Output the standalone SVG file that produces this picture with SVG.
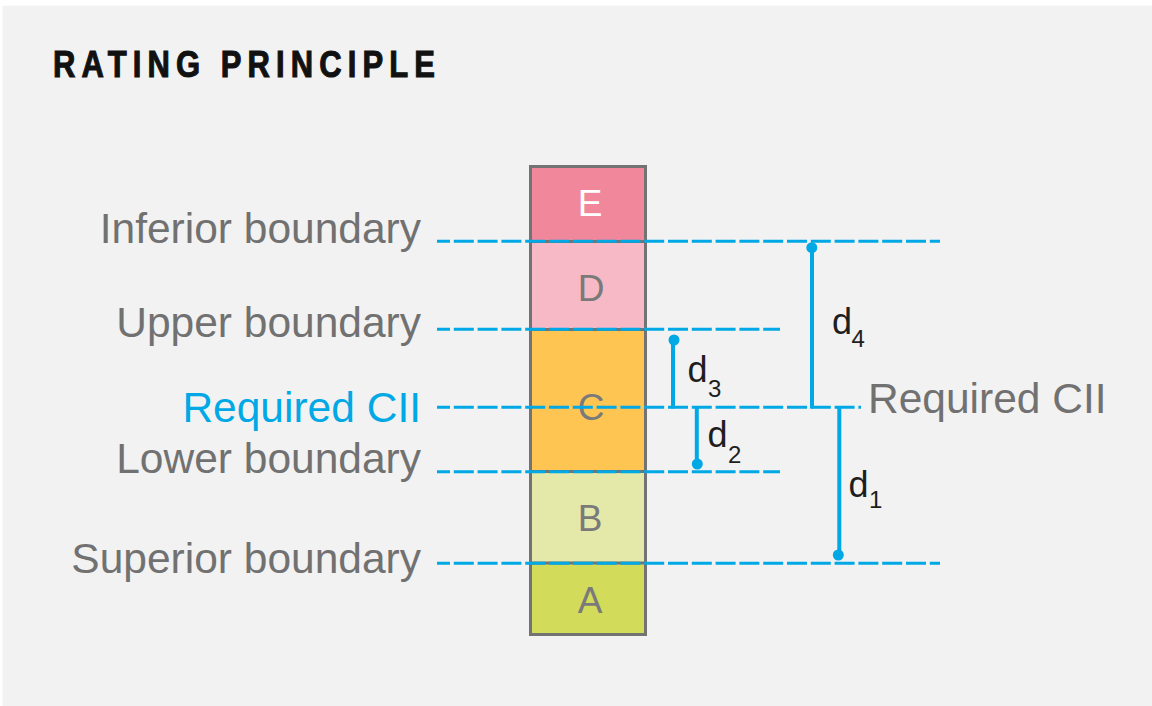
<svg xmlns="http://www.w3.org/2000/svg" width="1152" height="706" viewBox="0 0 1152 706">
  <style>
    .lbl { font-family: "Liberation Sans", Arial, sans-serif; font-size: 42.5px; fill: #717171; }
    .lbl-l { text-anchor: end; }
    .cii { fill: #00a9e6; }
    .band-txt { font-family: "Liberation Sans", Arial, sans-serif; font-size: 37px; fill: #7a7a7a; text-anchor: middle; }
    .dash { stroke: #00a9e6; stroke-width: 3; stroke-dasharray: 20 3.8; stroke-dashoffset: 7; fill: none; }
    .dim { stroke: #00a9e6; stroke-width: 4; fill: none; }
    .dot { fill: #00a9e6; }
    .sep { stroke: #737373; stroke-width: 3; }
    .dlbl { font-family: "Liberation Sans", Arial, sans-serif; font-size: 36px; fill: #1e1e1e; }
    .dsub { font-family: "Liberation Sans", Arial, sans-serif; font-size: 24px; fill: #1e1e1e; }
  </style>

  <!-- page background -->
  <rect x="0" y="0" width="1152" height="706" fill="#ffffff"/>
  <rect x="2.5" y="5.7" width="1150" height="701" fill="#f2f2f2"/>

  <!-- title -->
  <g id="title" transform="translate(53,76.7) scale(1,1.2)">
    <text x="0" y="0" font-family="'Liberation Sans', Arial, sans-serif" font-size="31" font-weight="bold" letter-spacing="6.1" fill="#111111" stroke="#111111" stroke-width="0.9">RATING PRINCIPLE</text>
  </g>

  <!-- rating scale bar -->
  <g id="scale-bar">
    <rect x="530.5" y="166.5" width="115" height="168" fill="#f0879b"/>
    <rect x="530.5" y="241.5" width="115" height="88" fill="#f6b9c5"/>
    <rect x="530.5" y="329.5" width="115" height="142" fill="#fec552"/>
    <rect x="530.5" y="471.5" width="115" height="92" fill="#e4e9a9"/>
    <rect x="530.5" y="563" width="115" height="71" fill="#d3db5a"/>
    <line class="sep" x1="530" y1="241.5" x2="646" y2="241.5"/>
    <line class="sep" x1="530" y1="329.5" x2="646" y2="329.5"/>
    <line class="sep" x1="530" y1="471.5" x2="646" y2="471.5"/>
    <line class="sep" x1="530" y1="563" x2="646" y2="563"/>
    <rect x="530.5" y="166.5" width="115" height="468" fill="none" stroke="#737373" stroke-width="3"/>
  </g>

  <g id="band-E"><text class="band-txt" x="590" y="216" style="fill:#ffffff">E</text></g>
  <g id="band-D"><text class="band-txt" x="591" y="300.7">D</text></g>
  <g id="band-C"><text class="band-txt" x="591" y="419.5">C</text></g>
  <g id="band-B"><text class="band-txt" x="590" y="530.7">B</text></g>
  <g id="band-A"><text class="band-txt" x="590" y="612.7">A</text></g>

  <!-- boundary labels -->
  <g id="label-inferior"><text class="lbl lbl-l" x="421" y="243">Inferior boundary</text></g>
  <g id="label-upper"><text class="lbl lbl-l" x="421" y="337">Upper boundary</text></g>
  <g id="label-required"><text class="lbl lbl-l cii" x="421" y="421.5">Required CII</text></g>
  <g id="label-lower"><text class="lbl lbl-l" x="421" y="473.3">Lower boundary</text></g>
  <g id="label-superior"><text class="lbl lbl-l" x="421" y="572.5">Superior boundary</text></g>
  <g id="label-required-right"><text class="lbl" x="868" y="412.7">Required CII</text></g>

  <!-- connectors: boundary lines and distance dimensions -->
  <g id="connectors">
    <line class="dash" x1="437" y1="241.3" x2="940" y2="241.3"/>
    <line class="dash" x1="437" y1="329.3" x2="780" y2="329.3"/>
    <line class="dash" x1="437" y1="407.3" x2="861" y2="407.3"/>
    <line class="dash" x1="437" y1="471.7" x2="780" y2="471.7"/>
    <line class="dash" x1="437" y1="563.3" x2="940" y2="563.3"/>

    <line class="dim" x1="812" y1="247.7" x2="812" y2="408.5"/>
    <circle class="dot" cx="811.8" cy="247.7" r="5.5"/>

    <line class="dim" x1="673" y1="340" x2="673" y2="408.5"/>
    <circle class="dot" cx="674" cy="340" r="5.5"/>

    <line class="dim" x1="696.8" y1="406" x2="696.8" y2="464"/>
    <circle class="dot" cx="697.3" cy="464" r="5.5"/>

    <line class="dim" x1="839.3" y1="406" x2="839.3" y2="555"/>
    <circle class="dot" cx="838.3" cy="555" r="5.5"/>
  </g>

  <!-- distance labels -->
  <g id="label-d4"><text class="dlbl" x="832" y="334">d</text><text class="dsub" x="851.5" y="346.5">4</text></g>
  <g id="label-d3"><text class="dlbl" x="687.5" y="381.7">d</text><text class="dsub" x="708" y="396.5">3</text></g>
  <g id="label-d2"><text class="dlbl" x="707.5" y="446.7">d</text><text class="dsub" x="728" y="463">2</text></g>
  <g id="label-d1"><text class="dlbl" x="848.5" y="496.7">d</text><text class="dsub" x="869" y="508.3">1</text></g>
</svg>
